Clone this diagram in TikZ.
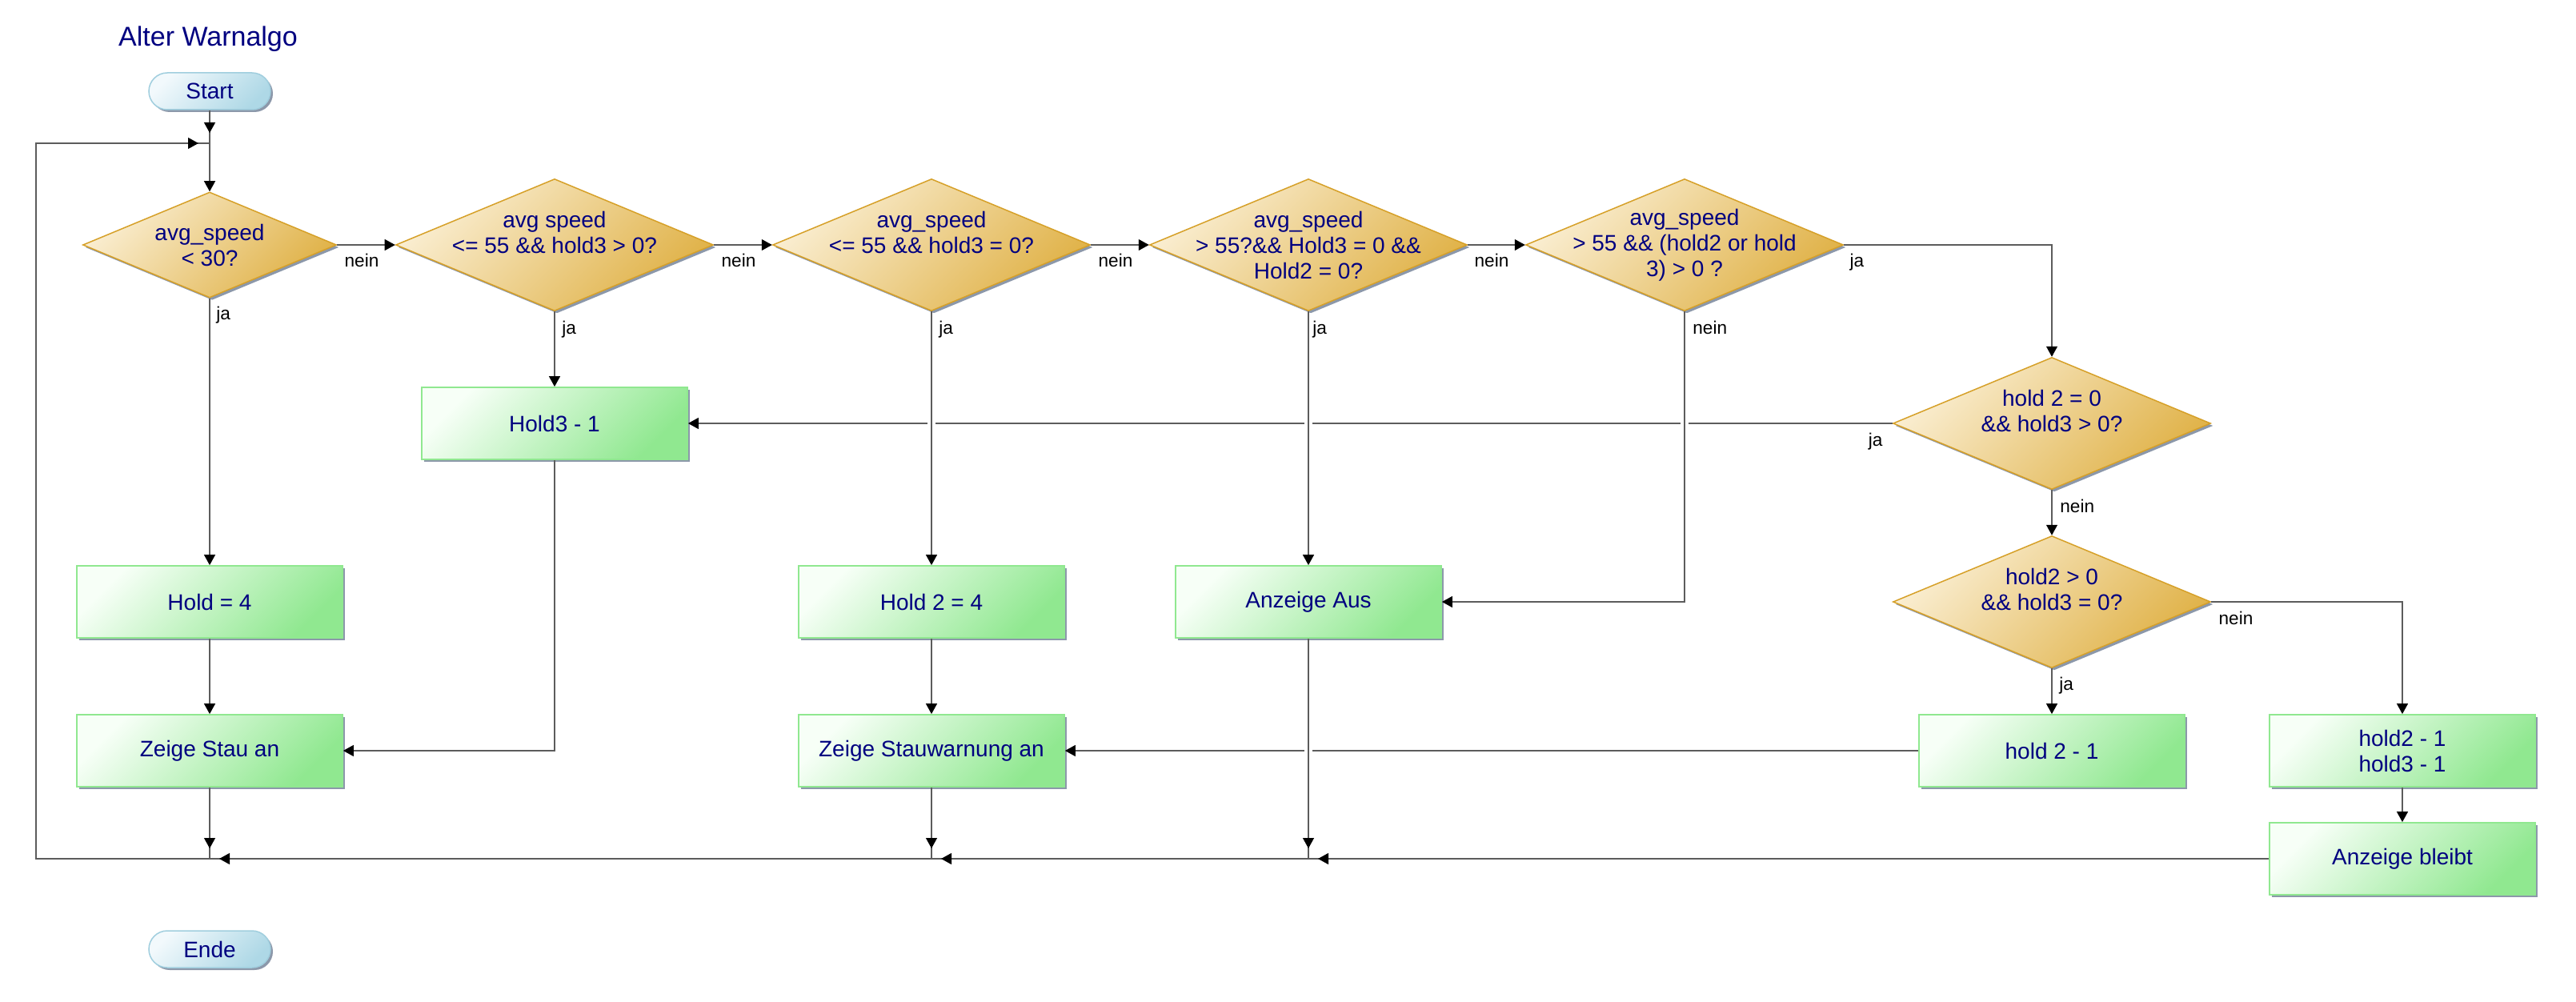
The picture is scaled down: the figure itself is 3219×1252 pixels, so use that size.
\documentclass[tikz,border=0pt]{standalone}
\usepackage{fontspec}
\setmainfont{Liberation Sans}
\usetikzlibrary{shapes.geometric, arrows.meta, calc, shadows, decorations.markings}

\definecolor{txt}{RGB}{0,0,128}
\definecolor{wirec}{RGB}{92,92,92}
\definecolor{shadec}{RGB}{140,152,170}
\definecolor{boxlo}{RGB}{144,232,144}
\definecolor{boxhi}{RGB}{247,255,247}
\definecolor{boxline}{RGB}{144,232,144}
\definecolor{declo}{RGB}{224,178,72}
\definecolor{dechi}{RGB}{250,238,210}
\definecolor{decline}{RGB}{214,160,40}
\definecolor{termlo}{RGB}{174,216,230}
\definecolor{termhi}{RGB}{242,249,252}
\definecolor{termline}{RGB}{160,206,222}

\tikzset{
  x=0.5pt, y=-0.5pt,
  base/.style={text=txt, font=\fontsize{14}{16}\selectfont, align=center, inner sep=0pt,
    drop shadow={shadow xshift=1.5pt, shadow yshift=-1.5pt, fill=shadec, opacity=1}},
  proc/.style={base, rectangle, draw=boxline, line width=0.9pt,
    minimum width=166pt, minimum height=45pt,
    top color=boxhi, bottom color=boxlo, shading angle=45},
  dec/.style={base, diamond, draw=decline, line width=0.75pt,
    minimum width=198.5pt, minimum height=82.5pt,
    top color=dechi, bottom color=declo, shading angle=45},
  decsmall/.style={dec, minimum width=158.5pt, minimum height=66pt},
  term/.style={base, rectangle, rounded corners=11.5pt, draw=termline, line width=0.75pt,
    minimum width=76pt, minimum height=23pt,
    top color=termhi, bottom color=termlo, shading angle=45},
  dtext/.style={text=txt, font=\fontsize{14}{16}\selectfont, align=center, inner sep=0pt},
  lbl/.style={font=\fontsize{11.3}{13}\selectfont, text=black, inner sep=0pt},
  wire/.style={draw=wirec, line width=0.6pt},
  arr/.style={wire, -{Triangle[length=6.5pt, width=7pt, color=black]}},
  tipbefore/.style={wire, postaction={decorate}, decoration={markings,
    mark=at position -#1 with {\arrow{Triangle[length=6.5pt, width=7pt, color=black]}}}}
}

\begin{document}
\begin{tikzpicture}
\fill[white] (0,0) rectangle (3219,1252);
\useasboundingbox (0,0) rectangle (3219,1252);

% title
\node[text=txt, font=\fontsize{17}{20}\selectfont, anchor=base, inner sep=0pt] (title) at (260,58) {Alter Warnalgo};

% terminals
\node[term] (start) at (262,114) {Start};
\node[term] (ende) at (262,1186) {Ende};

% decisions
\node[decsmall, label={[dtext]center:{avg\_speed\\< 30?}}] (d1) at (262,306) {};
\node[dec, label={[dtext, yshift=8pt]center:{avg speed\\<= 55 \&\& hold3 > 0?}}] (d2) at (693,306) {};
\node[dec, label={[dtext, yshift=8pt]center:{avg\_speed\\<= 55 \&\& hold3 = 0?}}] (d3) at (1164,306) {};
\node[dec, label={[dtext]center:{avg\_speed\\> 55?\&\& Hold3 = 0 \&\&\\Hold2 = 0?}}] (d4) at (1635,306) {};
\node[dec, label={[dtext]center:{avg\_speed\\> 55 \&\& (hold2 or hold\\3) > 0 ?}}] (d5) at (2105,306) {};
\node[dec, label={[dtext, yshift=8pt]center:{hold 2 = 0\\\&\& hold3 > 0?}}] (d6) at (2564,529) {};
\node[dec, label={[dtext, yshift=8pt]center:{hold2 > 0\\\&\& hold3 = 0?}}] (d7) at (2564,752) {};

% process boxes
\node[proc] (hold3) at (693,529) {Hold3 - 1};
\node[proc] (hold4) at (262,752) {Hold = 4};
\node[proc] (hold24) at (1164,752) {Hold 2 = 4};
\node[proc] (aus) at (1635,752) {Anzeige Aus};
\node[proc] (stau) at (262,938) {Zeige Stau an};
\node[proc] (warn) at (1164,938) {Zeige Stauwarnung an};
\node[proc] (h21) at (2564,938) {hold 2 - 1};
\node[proc] (h2131) at (3002,938) {hold2 - 1\\hold3 - 1};
\node[proc] (keep) at (3002,1073) {Anzeige bleibt};

% junction points
\coordinate (j0) at (262,179);
\coordinate (j1) at (262,1073);
\coordinate (j2) at (1164,1073);
\coordinate (j3) at (1635,1073);
\coordinate (c1) at (45,1073);
\coordinate (c2) at (45,179);

% long horizontal returns (crossed by vertical lines)
\draw[arr] (d6.west) -- (hold3.east);
\draw[arr] (h21.west) -- (warn.east);

% gaps where vertical lines cross them
\foreach \col/\row in {d3/hold3, d4/hold3, d5/hold3, aus/warn}{
  \coordinate (gx) at (\col.south |- \row.east);
  \fill[white] ($(gx)+(-5,-3)$) rectangle ($(gx)+(5,3)$);
}

% main chain
\draw[tipbefore=6.5pt] (start) -- (j0);
\draw[arr] (j0) -- (d1);
\draw[arr] (d1) -- (d2);
\draw[arr] (d2) -- (d3);
\draw[arr] (d3) -- (d4);
\draw[arr] (d4) -- (d5);
\draw[arr] (d5.east) -| (d6.north);
\draw[arr] (d6) -- (d7);
\draw[arr] (d7.east) -| (h2131.north);

% yes branches
\draw[arr] (d1) -- (hold4);
\draw[arr] (hold4) -- (stau);
\draw[arr] (d2) -- (hold3);
\draw[arr] (hold3.south) |- (stau.east);
\draw[arr] (d3) -- (hold24);
\draw[arr] (hold24) -- (warn);
\draw[arr] (d4) -- (aus);
\draw[arr] (d5.south) |- (aus.east);
\draw[arr] (d7) -- (h21);
\draw[arr] (h2131) -- (keep);

% merge line and loop back
\draw[tipbefore=6.5pt] (stau) -- (j1);
\draw[tipbefore=6.5pt] (warn) -- (j2);
\draw[tipbefore=6.5pt] (aus) -- (j3);
\draw[tipbefore=6pt] (keep.west) -- (j3);
\draw[tipbefore=6pt] (j3) -- (j2);
\draw[tipbefore=6pt] (j2) -- (j1);
\draw[tipbefore=7pt] (j1) -- (c1) -- (c2) -- (j0);

% branch labels
\node[lbl, anchor=base west] (n1) at ($(d1.east)+(9,27)$) {nein};
\node[lbl, anchor=base west] (y1) at ($(d1.south)+(8,27)$) {ja};
\node[lbl, anchor=base west] (n2) at ($(d2.east)+(9,27)$) {nein};
\node[lbl, anchor=base west] (y2) at ($(d2.south)+(9,28)$) {ja};
\node[lbl, anchor=base west] (n3) at ($(d3.east)+(9,27)$) {nein};
\node[lbl, anchor=base west] (y3) at ($(d3.south)+(9,28)$) {ja};
\node[lbl, anchor=base west] (n4) at ($(d4.east)+(8,27)$) {nein};
\node[lbl, anchor=base west] (y4) at ($(d4.south)+(5,28)$) {ja};
\node[lbl, anchor=base west] (y5) at ($(d5.east)+(7,27)$) {ja};
\node[lbl, anchor=base west] (n5) at ($(d5.south)+(10,28)$) {nein};
\node[lbl, anchor=base east] (y6) at ($(d6.west)+(-12,28)$) {ja};
\node[lbl, anchor=base west] (n6) at ($(d6.south)+(10,28)$) {nein};
\node[lbl, anchor=base west] (n7) at ($(d7.east)+(9,28)$) {nein};
\node[lbl, anchor=base west] (y7) at ($(d7.south)+(9,27)$) {ja};
\end{tikzpicture}
\end{document}
